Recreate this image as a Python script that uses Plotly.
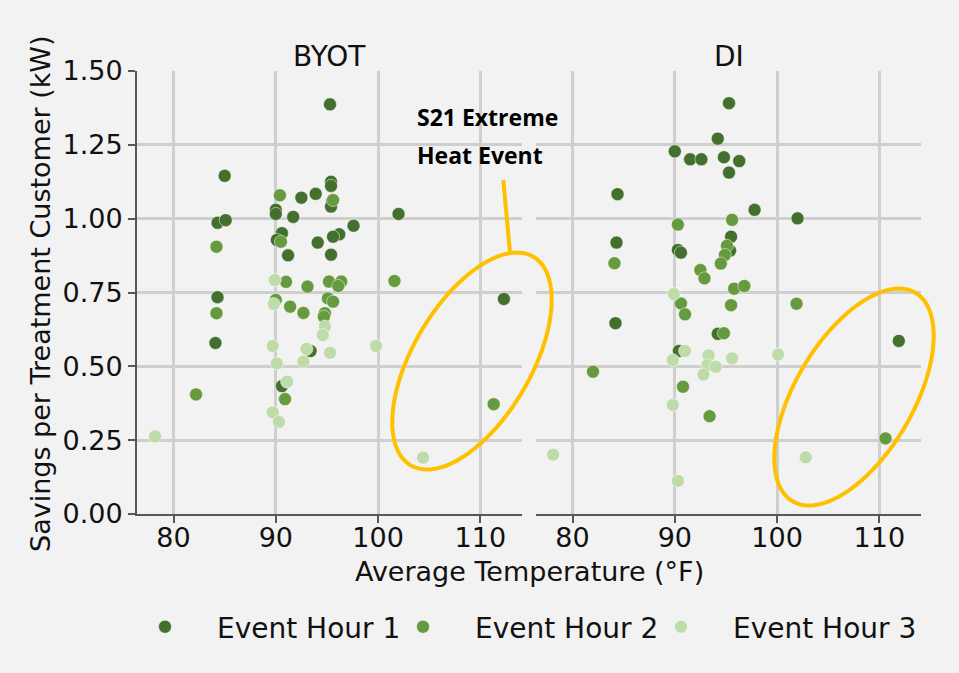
import numpy as np
import plotly.graph_objects as go

# ---- data: average event temperature (°F) and savings per treatment customer (kW)
byot_h1_temp = [95.3, 85.0, 84.3, 85.1, 92.5, 93.9, 90.0, 90.0, 91.7, 95.4, 95.4, 95.5, 95.4,
                102.0, 97.6, 96.2, 95.6, 90.6, 90.1, 94.1, 91.2, 95.4, 84.3, 84.1, 93.4, 90.6, 112.3]
byot_h1_sav = [1.387, 1.145, 0.986, 0.995, 1.071, 1.084, 1.030, 1.016, 1.006, 1.125, 1.111, 1.058, 1.041,
               1.016, 0.976, 0.947, 0.939, 0.951, 0.928, 0.919, 0.876, 0.878, 0.734, 0.579, 0.552, 0.433, 0.728]

byot_h2_temp = [84.2, 90.4, 90.5, 91.0, 93.1, 95.6, 95.2, 96.4, 101.6, 95.1, 95.6, 94.8, 94.7,
                90.0, 91.4, 92.7, 84.2, 82.2, 90.9, 111.3, 96.1]
byot_h2_sav = [0.905, 1.079, 0.922, 0.786, 0.770, 1.063, 0.787, 0.787, 0.789, 0.730, 0.719, 0.680, 0.668,
               0.725, 0.702, 0.681, 0.680, 0.405, 0.389, 0.372, 0.772]

byot_h3_temp = [78.2, 89.9, 89.8, 94.8, 94.6, 93.0, 92.7, 89.7, 90.1, 91.1, 89.7, 90.3, 95.3, 99.8, 104.4]
byot_h3_sav = [0.263, 0.792, 0.711, 0.635, 0.606, 0.559, 0.516, 0.569, 0.510, 0.448, 0.344, 0.312,
               0.546, 0.569, 0.191]

di_h1_temp = [95.3, 94.2, 90.0, 91.5, 92.6, 94.8, 96.3, 95.3, 84.4, 97.8, 102.0, 84.3, 90.3, 90.6,
              95.5, 95.4, 84.2, 94.2, 90.4, 111.9]
di_h1_sav = [1.391, 1.271, 1.228, 1.201, 1.201, 1.208, 1.195, 1.156, 1.083, 1.030, 1.001, 0.919, 0.894,
             0.885, 0.939, 0.892, 0.646, 0.610, 0.552, 0.586]

di_h2_temp = [90.3, 95.6, 84.1, 92.5, 92.9, 95.1, 94.9, 94.5, 90.6, 91.0, 95.8, 96.8, 95.5, 101.9,
              94.8, 82.0, 90.8, 93.4, 110.6]
di_h2_sav = [0.980, 0.996, 0.849, 0.826, 0.798, 0.908, 0.877, 0.848, 0.713, 0.676, 0.763, 0.772, 0.707,
             0.712, 0.612, 0.482, 0.431, 0.331, 0.256]

di_h3_temp = [89.9, 91.0, 89.8, 93.3, 93.2, 94.0, 92.8, 95.6, 100.1, 89.8, 78.1, 90.3, 102.8]
di_h3_sav = [0.745, 0.552, 0.521, 0.537, 0.504, 0.499, 0.472, 0.527, 0.540, 0.369, 0.201, 0.112, 0.192]

panel_titles = ["BYOT", "DI"]
hour_labels = ["Event Hour 1", "Event Hour 2", "Event Hour 3"]
hour_colors = ["#44702e", "#659b3e", "#bedcaa"]
x_ticks = [80, 90, 100, 110]
y_ticks = [0.0, 0.25, 0.50, 0.75, 1.00, 1.25, 1.50]

# ---- layout geometry (pixels)
W, H = 959, 673
PANEL_PX = [(137, 522), (536, 921)]
Y_PX = (71, 514)  # top, bottom
X_RANGE = [76.43, 114.07]
Y_RANGE = [0.0, 1.5]
LEGEND_MARKER_PX = [165, 423, 681]
LEGEND_Y_PX = 627


def to_px(panel, t, v):
    x0, x1 = PANEL_PX[panel]
    px = x0 + (t - X_RANGE[0]) / (X_RANGE[1] - X_RANGE[0]) * (x1 - x0)
    py = Y_PX[1] - (v - Y_RANGE[0]) / (Y_RANGE[1] - Y_RANGE[0]) * (Y_PX[1] - Y_PX[0])
    return px, py


def paper(px, py):
    return px / W, 1 - py / H


def ellipse_path(panel, t, v, a, b, ang_deg, n=90):
    cx, cy = to_px(panel, t, v)
    phi = np.radians(ang_deg)
    s = np.linspace(0, 2 * np.pi, n, endpoint=False)
    ex = cx + a * np.cos(s) * np.cos(phi) - b * np.sin(s) * np.sin(phi)
    ey = cy - (a * np.cos(s) * np.sin(phi) + b * np.sin(s) * np.cos(phi))
    pts = [paper(x, y) for x, y in zip(ex, ey)]
    return "M " + " L ".join(f"{x:.5f},{y:.5f}" for x, y in pts) + " Z"


fig = go.Figure()

legend_ids = ["legend", "legend2", "legend3"]
series = [
    (0, [(byot_h1_temp, byot_h1_sav), (byot_h2_temp, byot_h2_sav), (byot_h3_temp, byot_h3_sav)]),
    (1, [(di_h1_temp, di_h1_sav), (di_h2_temp, di_h2_sav), (di_h3_temp, di_h3_sav)]),
]
for panel, hours in series:
    for i, (tx, sv) in enumerate(hours):
        fig.add_trace(go.Scatter(
            x=tx, y=sv, mode="markers", name=hour_labels[i],
            legendgroup=hour_labels[i], showlegend=(panel == 0), legend=legend_ids[i],
            marker=dict(color=hour_colors[i], size=13, line=dict(width=0.6, color="rgba(255,255,255,0.8)")),
            xaxis="x" if panel == 0 else "x2", yaxis="y" if panel == 0 else "y2",
        ))

axis_line = "#54585e"
grid = "#cfcfcf"
common_x = dict(range=X_RANGE, tickvals=x_ticks, showgrid=True, gridcolor=grid, gridwidth=2.5,
                showline=True, linecolor=axis_line, linewidth=2, ticks="outside", ticklen=7,
                tickwidth=2, tickcolor=axis_line, zeroline=False, fixedrange=True, automargin=False,
                ticklabelstandoff=-8, tickfont=dict(size=27, color="#111111"))
ydom = [1 - Y_PX[1] / H, 1 - Y_PX[0] / H]

# one single-entry legend per event hour, spaced along the bottom
ITEMW = 94
legends = {}
for lid, mx in zip(legend_ids, LEGEND_MARKER_PX):
    lx, ly = paper(mx - (ITEMW + 10) / 2, LEGEND_Y_PX)
    legends[lid] = dict(orientation="h", x=lx, xanchor="left", y=ly, yanchor="middle",
                        itemwidth=ITEMW, font=dict(size=28, color="#111111"),
                        bgcolor="rgba(0,0,0,0)", borderwidth=0)

fig.update_layout(
    width=W, height=H,
    margin=dict(l=0, r=0, t=0, b=0, autoexpand=False),
    paper_bgcolor="#f2f2f2", plot_bgcolor="#f2f2f2",
    font=dict(family="DejaVu Sans", size=27, color="#111111"),
    xaxis=dict(domain=[PANEL_PX[0][0] / W, PANEL_PX[0][1] / W], anchor="y", **common_x),
    xaxis2=dict(domain=[PANEL_PX[1][0] / W, PANEL_PX[1][1] / W], anchor="y2", **common_x),
    yaxis=dict(domain=ydom, range=Y_RANGE, tickvals=y_ticks, tickformat=".2f", showgrid=True,
               gridcolor=grid, gridwidth=2.5, showline=True, linecolor=axis_line, linewidth=2,
               ticks="outside", ticklen=7, tickwidth=2, tickcolor=axis_line, zeroline=False,
               automargin=False, fixedrange=True,
               tickfont=dict(size=27, color="#111111"), anchor="x"),
    yaxis2=dict(domain=ydom, range=Y_RANGE, tickvals=y_ticks, showgrid=True, gridcolor=grid,
                gridwidth=2.5, showline=False, ticks="", showticklabels=False, zeroline=False,
                automargin=False, fixedrange=True, anchor="x2", matches="y"),
    showlegend=True,
    **legends,
)

# panel titles and shared axis titles
annos = []
for p, title in enumerate(panel_titles):
    cx = (PANEL_PX[p][0] + PANEL_PX[p][1]) / 2
    x, y = paper(cx, 56)
    annos.append(dict(text=title, x=x, y=y, xref="paper", yref="paper", showarrow=False,
                      xanchor="center", yanchor="middle", font=dict(size=28, color="#111111")))
x, y = paper((PANEL_PX[0][0] + PANEL_PX[1][1]) / 2, 571)
annos.append(dict(text="Average Temperature (°F)", x=x, y=y, xref="paper", yref="paper",
                  showarrow=False, xanchor="center", yanchor="middle", font=dict(size=27)))
x, y = paper(40, 294)
annos.append(dict(text="Savings per Treatment Customer (kW)", x=x, y=y, xref="paper", yref="paper",
                  showarrow=False, textangle=-90, xanchor="center", yanchor="middle",
                  font=dict(size=27)))

# callout for the extreme heat event
for line, v in [("S21 Extreme", 1.343), ("Heat Event", 1.216)]:
    annos.append(dict(text=line, x=103.6, y=v, xref="x", yref="y", showarrow=False,
                      xanchor="left", yanchor="middle",
                      font=dict(family="Open Sans", size=23, color="#000000", weight="bold")))
fig.update_layout(annotations=annos)

yellow = "#ffc000"
shapes = [
    dict(type="path", xref="paper", yref="paper", path=ellipse_path(0, 109.18, 0.518, 121, 59, 59.5),
         line=dict(color=yellow, width=4)),
    dict(type="path", xref="paper", yref="paper", path=ellipse_path(1, 107.52, 0.396, 121, 59, 59.5),
         line=dict(color=yellow, width=4)),
]
(lx0, ly0), (lx1, ly1) = to_px(0, 112.24, 1.131), to_px(0, 112.89, 0.888)
p0, p1 = paper(lx0, ly0), paper(lx1, ly1)
shapes.append(dict(type="line", xref="paper", yref="paper", x0=p0[0], y0=p0[1], x1=p1[0], y1=p1[1],
                   line=dict(color=yellow, width=4)))
fig.update_layout(shapes=shapes)

fig.write_html("out.html")
